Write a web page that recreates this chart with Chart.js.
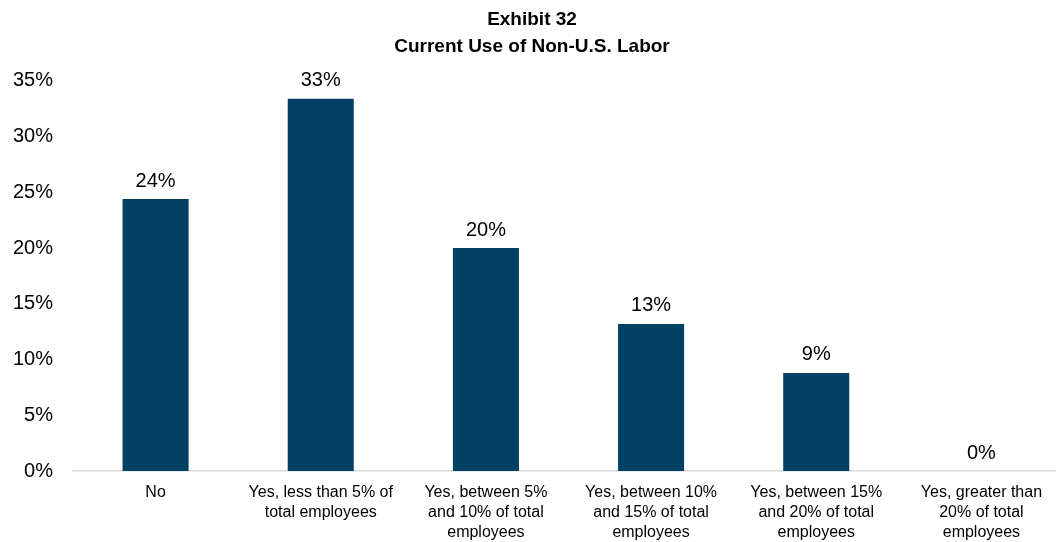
<!DOCTYPE html>
<html>
<head>
<meta charset="utf-8">
<script src="https://cdn.jsdelivr.net/npm/chart.js@4.4.0/dist/chart.umd.min.js"></script>
<style>
  html, body { margin: 0; padding: 0; background: #fff; overflow: hidden; }
  #wrap { width: 1064px; height: 542px; }
</style>
</head>
<body>
<div id="wrap"><canvas id="laborChart"></canvas></div>
<script>
const categories = [
    ['No'],
    ['Yes, less than 5% of', 'total employees'],
    ['Yes, between 5%', 'and 10% of total', 'employees'],
    ['Yes, between 10%', 'and 15% of total', 'employees'],
    ['Yes, between 15%', 'and 20% of total', 'employees'],
    ['Yes, greater than', '20% of total', 'employees']
]
const shares = [24.4, 33.4, 20.0, 13.2, 8.8, 0]
const yTicks = [0, 5, 10, 15, 20, 25, 30, 35]

const fontFamily = "'Liberation Sans', Arial, sans-serif"

// value labels on top of each bar
const barLabels = {
    id: 'barLabels',
    afterDatasetsDraw(chart) {
        const ctx = chart.ctx
        const meta = chart.getDatasetMeta(0)
        ctx.save()
        ctx.font = '20px ' + fontFamily
        ctx.fillStyle = '#000'
        ctx.textAlign = 'center'
        ctx.textBaseline = 'bottom'
        meta.data.forEach((bar, i) => {
            ctx.fillText(Math.round(shares[i]) + '%', bar.x, bar.y - 8)
        })
        ctx.restore()
    }
}

let ctx = document.getElementById('laborChart').getContext('2d')

let laborChart = new Chart(ctx, {
    type: 'bar',
    data: {
        labels: categories,
        datasets: [{
            data: shares,
            backgroundColor: '#024064',
            categoryPercentage: 1,
            barPercentage: 0.4
        }]
    },
    options: {
        responsive: true,
        maintainAspectRatio: false,
        animation: false,
        layout: { padding: { left: 0, right: 0, top: 0, bottom: 0 } },
        plugins: {
            legend: { display: false },
            tooltip: { enabled: false },
            title: {
                display: true,
                text: ['Exhibit 32', 'Current Use of Non-U.S. Labor'],
                color: '#000',
                font: { family: fontFamily, size: 19, weight: 'bold', lineHeight: 1.42 },
                padding: { top: 6, bottom: 21 }
            }
        },
        scales: {
            x: {
                afterFit: scale => { scale.height = 71 },
                grid: { display: false, drawTicks: false },
                border: { display: true, color: '#d9d9d9', width: 1.5 },
                ticks: {
                    color: '#000',
                    padding: 12,
                    maxRotation: 0,
                    autoSkip: false,
                    font: { family: fontFamily, size: 16, lineHeight: 1.25 }
                }
            },
            y: {
                min: 0,
                max: 35,
                afterBuildTicks: scale => {
                    scale.ticks = yTicks.map(v => ({ value: v }))
                },
                afterFit: scale => { scale.width = 73 },
                grid: { display: false, drawTicks: false },
                border: { display: false },
                ticks: {
                    color: '#000',
                    padding: 20,
                    font: { family: fontFamily, size: 20 },
                    callback: v => v + '%'
                }
            }
        }
    },
    plugins: [barLabels]
})
</script>
</body>
</html>
